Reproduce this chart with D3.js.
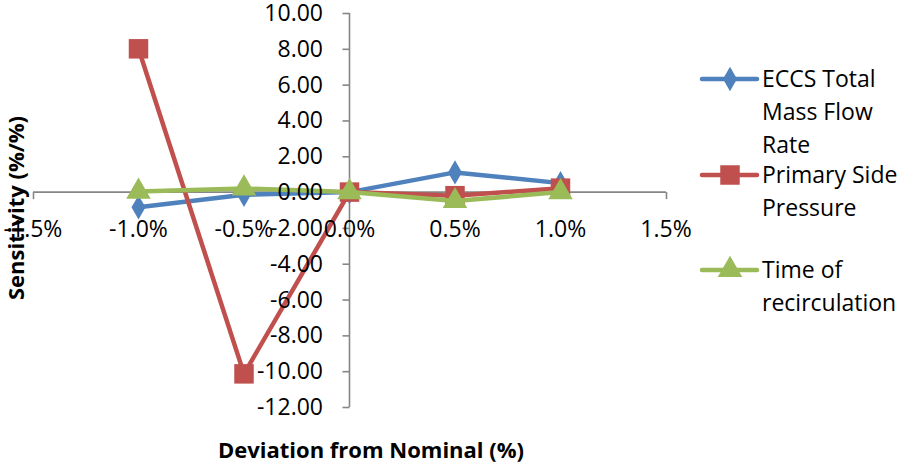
<!DOCTYPE html>
<html>
<head>
<meta charset="utf-8">
<script src="https://cdn.jsdelivr.net/npm/d3@7"></script>
<style>
  html, body { margin: 0; padding: 0; background: #fff; }
  svg { display: block; font-family: "Open Sans", Lato, sans-serif; }
</style>
</head>
<body>
<svg id="chart" width="898" height="466"></svg>
<script>
// Deviation from nominal (%) and sensitivity (%/%) of each parameter
const deviations = [-1.0, -0.5, 0.0, 0.5, 1.0];
const eccsMassFlow = [-0.85, -0.15, 0.0, 1.1, 0.5];
const primaryPressure = [8.0, -10.15, 0.0, -0.2, 0.22];
const recirculationTime = [0.03, 0.2, 0.0, -0.5, 0.0];

const seriesNames = ["ECCS Total Mass Flow Rate", "Primary Side Pressure", "Time of recirculation"];
const legendLines = [["ECCS Total", "Mass Flow", "Rate"], ["Primary Side", "Pressure"], ["Time of", "recirculation"]];
const xTicks = [-1.5, -1.0, -0.5, 0.0, 0.5, 1.0, 1.5];
const yTicks = [10, 8, 6, 4, 2, 0, -2, -4, -6, -8, -10, -12];

const colors = ["#4F81BD", "#C0504D", "#9BBB59"];
const symbols = [d3.symbolDiamond, d3.symbolSquare, d3.symbolTriangle];
const symbolSizes = [170, 380, 260];

const svg = d3.select("#chart");

const x = d3.scaleLinear().domain([-1.5, 1.5]).range([33, 666]);
const y = d3.scaleLinear().domain([-12, 10]).range([407, 13]);

const axisColor = "#868686";
// plain hyphen for negative numbers
const fmt = (spec) => { const f = d3.format(spec); return v => f(v).replace("\u2212", "-"); };

// Horizontal axis crossing at zero
const xAxis = svg.append("g").attr("transform", `translate(0,${y(0)})`)
  .call(d3.axisBottom(x).tickValues(xTicks).tickSize(7).tickFormat(""));
xAxis.select(".domain").attr("stroke", axisColor).attr("stroke-width", 1.6).attr("d", `M${x(-1.5)},0H${x(1.5)}`);
xAxis.selectAll(".tick line").attr("stroke", axisColor).attr("stroke-width", 1.6);

// Vertical axis crossing at zero
const yAxis = svg.append("g").attr("transform", `translate(${x(0)},0)`)
  .call(d3.axisLeft(y).tickValues(yTicks).tickSize(7).tickFormat(""));
yAxis.select(".domain").attr("stroke", axisColor).attr("stroke-width", 1.6).attr("d", `M0,${y(10)}V${y(-12)}`);
yAxis.selectAll(".tick line").attr("stroke", axisColor).attr("stroke-width", 1.6);

// Series
const allSeries = [eccsMassFlow, primaryPressure, recirculationTime];
const line = d3.line().x(d => x(d[0])).y(d => y(d[1]));

allSeries.forEach((vals, i) => {
  const pts = deviations.map((d, j) => [d, vals[j]]);
  const g = svg.append("g").attr("class", "series");
  g.append("path").datum(pts).attr("d", line)
    .attr("fill", "none").attr("stroke", colors[i]).attr("stroke-width", 4.5)
    .attr("stroke-linejoin", "round");
  g.selectAll("path.mk").data(pts).join("path").attr("class", "mk")
    .attr("d", d3.symbol().type(symbols[i]).size(symbolSizes[i]))
    .attr("transform", d => `translate(${x(d[0])},${y(d[1])})`)
    .attr("fill", colors[i]);
});

// Tick labels
const yFmt = fmt(".2f");
svg.append("g").selectAll("text").data(yTicks).join("text")
  .attr("x", 323).attr("y", d => y(d) + 8)
  .attr("text-anchor", "end").attr("font-size", 23).attr("fill", "#000")
  .text(d => yFmt(d));

const xFmt = fmt(".1f");
svg.append("g").selectAll("text").data(xTicks).join("text")
  .attr("x", d => x(d)).attr("y", 237)
  .attr("text-anchor", "middle").attr("font-size", 23).attr("fill", "#000")
  .text(d => xFmt(d) + "%");

// Axis titles
svg.append("text").attr("x", 371).attr("y", 458)
  .attr("text-anchor", "middle").attr("font-size", 22).attr("font-weight", "bold")
  .text("Deviation from Nominal (%)");
svg.append("text").attr("transform", "translate(24,208) rotate(-90)")
  .attr("text-anchor", "middle").attr("font-size", 22).attr("font-weight", "bold")
  .text("Sensitivity (%/%)");

// Legend
const legendY = [79, 175, 270];
legendLines.forEach((lines, i) => {
  const g = svg.append("g").attr("class", "legend-item");
  g.append("line").attr("x1", 702).attr("x2", 757)
    .attr("y1", legendY[i]).attr("y2", legendY[i])
    .attr("stroke", colors[i]).attr("stroke-width", 4.5).attr("stroke-linecap", "round");
  g.append("path").attr("d", d3.symbol().type(symbols[i]).size(symbolSizes[i]))
    .attr("transform", `translate(730,${legendY[i]})`).attr("fill", colors[i]);
  const t = g.append("text").attr("x", 762).attr("y", legendY[i] + 8)
    .attr("font-size", 23).attr("fill", "#000");
  lines.forEach((s, k) => {
    t.append("tspan").attr("x", 762).attr("dy", k === 0 ? 0 : 33).text(s);
  });
});
</script>
</body>
</html>
